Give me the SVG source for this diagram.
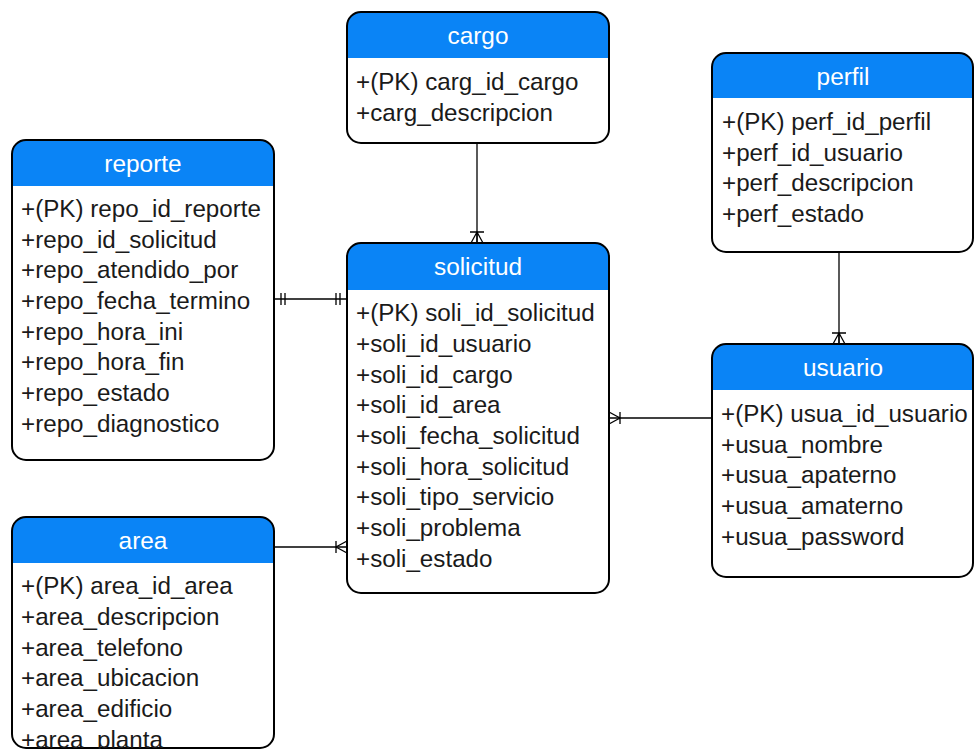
<svg xmlns="http://www.w3.org/2000/svg" width="974" height="749" viewBox="0 0 974 749">
<style>
.box{fill:none;stroke:#000;stroke-width:2}
.hdr{fill:#0a84f6}
.t{font-family:"Liberation Sans",Arial,sans-serif;font-size:24.2px;fill:#1a1a1a}
.h{font-family:"Liberation Sans",Arial,sans-serif;font-size:24.4px;fill:#fff;text-anchor:middle}
.c{stroke:#000;stroke-width:1.3;fill:none}
</style>
<defs>
<clipPath id="cCargo"><rect x="347" y="12" width="262" height="131" rx="14"/></clipPath>
<clipPath id="cPerfil"><rect x="712" y="53" width="261" height="199" rx="14"/></clipPath>
<clipPath id="cReporte"><rect x="12" y="140" width="262" height="320" rx="14"/></clipPath>
<clipPath id="cSoli"><rect x="347" y="243" width="262" height="350" rx="14"/></clipPath>
<clipPath id="cUsuario"><rect x="712" y="344" width="261" height="233" rx="14"/></clipPath>
<clipPath id="cArea"><rect x="12" y="517" width="262" height="231" rx="14"/></clipPath>
</defs>
<rect width="974" height="749" fill="#fff"/>
<g id="connectors" class="c">
<path d="M477 143V243"/>
<path d="M471 243L477 232L483 243M477 243V232M470 232H484"/>
<path d="M839 252V344"/>
<path d="M833 344L839 333L845 344M839 344V333M832 333H846"/>
<path d="M274 299H347"/>
<path d="M281 293V305M285 293V305M336 293V305M340 293V305"/>
<path d="M609 418H712"/>
<path d="M609 412L620 418L609 424M620 412V424"/>
<path d="M274 547H347"/>
<path d="M347 541L336 547L347 553M336 541V553"/>
</g>
<g id="cargo">
<g clip-path="url(#cCargo)"><rect x="347" y="12" width="262" height="131" fill="#fff"/><rect class="hdr" x="347" y="12" width="262" height="46"/></g>
<rect class="box" x="347" y="12" width="262" height="131" rx="14"/>
<text class="h" x="478" y="44">cargo</text>
<text class="t" x="356" y="90">+(PK) carg_id_cargo</text>
<text class="t" x="356" y="121">+carg_descripcion</text>
</g>
<g id="perfil">
<g clip-path="url(#cPerfil)"><rect x="712" y="53" width="261" height="199" fill="#fff"/><rect class="hdr" x="712" y="53" width="261" height="45"/></g>
<rect class="box" x="712" y="53" width="261" height="199" rx="14"/>
<text class="h" x="843" y="85">perfil</text>
<text class="t" x="722" y="130">+(PK) perf_id_perfil</text>
<text class="t" x="722" y="161">+perf_id_usuario</text>
<text class="t" x="722" y="191">+perf_descripcion</text>
<text class="t" x="722" y="222">+perf_estado</text>
</g>
<g id="reporte">
<g clip-path="url(#cReporte)"><rect x="12" y="140" width="262" height="320" fill="#fff"/><rect class="hdr" x="12" y="140" width="262" height="46"/></g>
<rect class="box" x="12" y="140" width="262" height="320" rx="14"/>
<text class="h" x="143" y="172">reporte</text>
<text class="t" x="21" y="217">+(PK) repo_id_reporte</text>
<text class="t" x="21" y="248">+repo_id_solicitud</text>
<text class="t" x="21" y="278">+repo_atendido_por</text>
<text class="t" x="21" y="309">+repo_fecha_termino</text>
<text class="t" x="21" y="340">+repo_hora_ini</text>
<text class="t" x="21" y="370">+repo_hora_fin</text>
<text class="t" x="21" y="401">+repo_estado</text>
<text class="t" x="21" y="432">+repo_diagnostico</text>
</g>
<g id="solicitud">
<g clip-path="url(#cSoli)"><rect x="347" y="243" width="262" height="350" fill="#fff"/><rect class="hdr" x="347" y="243" width="262" height="47"/></g>
<rect class="box" x="347" y="243" width="262" height="350" rx="14"/>
<text class="h" x="478" y="275">solicitud</text>
<text class="t" x="356" y="321">+(PK) soli_id_solicitud</text>
<text class="t" x="356" y="352">+soli_id_usuario</text>
<text class="t" x="356" y="383">+soli_id_cargo</text>
<text class="t" x="356" y="413">+soli_id_area</text>
<text class="t" x="356" y="444">+soli_fecha_solicitud</text>
<text class="t" x="356" y="475">+soli_hora_solicitud</text>
<text class="t" x="356" y="505">+soli_tipo_servicio</text>
<text class="t" x="356" y="536">+soli_problema</text>
<text class="t" x="356" y="567">+soli_estado</text>
</g>
<g id="usuario">
<g clip-path="url(#cUsuario)"><rect x="712" y="344" width="261" height="233" fill="#fff"/><rect class="hdr" x="712" y="344" width="261" height="46"/></g>
<rect class="box" x="712" y="344" width="261" height="233" rx="14"/>
<text class="h" x="843" y="376">usuario</text>
<text class="t" x="721" y="422">+(PK) usua_id_usuario</text>
<text class="t" x="721" y="453">+usua_nombre</text>
<text class="t" x="721" y="483">+usua_apaterno</text>
<text class="t" x="721" y="514">+usua_amaterno</text>
<text class="t" x="721" y="545">+usua_password</text>
</g>
<g id="area">
<g clip-path="url(#cArea)"><rect x="12" y="517" width="262" height="231" fill="#fff"/><rect class="hdr" x="12" y="517" width="262" height="46"/></g>
<rect class="box" x="12" y="517" width="262" height="231" rx="14"/>
<text class="h" x="143" y="549">area</text>
<text class="t" x="21" y="594">+(PK) area_id_area</text>
<text class="t" x="21" y="625">+area_descripcion</text>
<text class="t" x="21" y="656">+area_telefono</text>
<text class="t" x="21" y="686">+area_ubicacion</text>
<text class="t" x="21" y="717">+area_edificio</text>
<text class="t" x="21" y="748">+area_planta</text>
</g>
</svg>
